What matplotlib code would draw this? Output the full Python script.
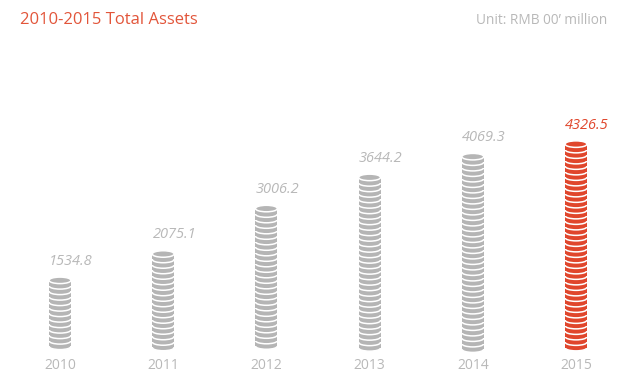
import matplotlib
matplotlib.use("Agg")
import matplotlib.pyplot as plt
from matplotlib.patches import Ellipse, Rectangle

years = ["2010", "2011", "2012", "2013", "2014", "2015"]
total_assets = [1534.8, 2075.1, 3006.2, 3644.2, 4069.3, 4326.5]

GRAY = "#b5b5b5"
RED = "#e0462c"
LABEL_GRAY = "#b8b8b8"

plt.rcParams["font.family"] = ["Open Sans", "DejaVu Sans"]

W, H = 617, 384
fig = plt.figure(figsize=(W / 100, H / 100), dpi=100)

# category spacing ~103 px, zero line ~32 px above the bottom edge
px_per_cat = 103.2
px_per_unit = 0.0488
ymax = 7000
ax = fig.add_axes([(60 - 0.5 * px_per_cat) / W, 32 / H,
                   6 * px_per_cat / W, ymax * px_per_unit / H])
ax.set_xlim(-0.5, 5.5)
ax.set_ylim(0, ymax)
ax.axis("off")

coin_w = 22 / px_per_cat
coin_h = 6.5 / px_per_unit
step = 5.5 / px_per_unit


def draw_stack(x, value, color):
    # coins stacked bottom-up: each is a side band bounded by a white bottom rim
    top = value - coin_h / 2
    n = int(round((top - coin_h / 2) / step))
    bottoms = [top - k * step for k in range(n, 0, -1)]
    for b in bottoms:
        ax.add_patch(Ellipse((x, b), coin_w, coin_h, facecolor=color,
                             edgecolor="white", linewidth=1.1))
        ax.add_patch(Rectangle((x - coin_w / 2, b), coin_w, step,
                               facecolor=color, edgecolor="none"))
    # top face
    ax.add_patch(Ellipse((x, top), coin_w, coin_h, facecolor=color,
                         edgecolor="white", linewidth=1.1))


for i, (yr, val) in enumerate(zip(years, total_assets)):
    last = i == len(years) - 1
    draw_stack(i, val, RED if last else GRAY)
    ax.annotate(f"{val:.1f}", (i, val), xytext=(8, 6), textcoords="offset points",
                ha="center", va="bottom", fontsize=10.5, style="italic",
                color=RED if last else LABEL_GRAY)
    ax.annotate(yr, (i, 0), xytext=(0, -4), textcoords="offset points",
                ha="center", va="top", fontsize=10, color=LABEL_GRAY)

fig.text(20 / W, 1 - 20 / H, "2010-2015 Total Assets", ha="left", va="center",
         fontsize=12, color="#e2553a")
fig.text(1 - 10 / W, 1 - 20 / H, "Unit: RMB 00\u2019 million", ha="right", va="center",
         fontsize=9.8, color=LABEL_GRAY)

fig.savefig("out.png", dpi=100)
